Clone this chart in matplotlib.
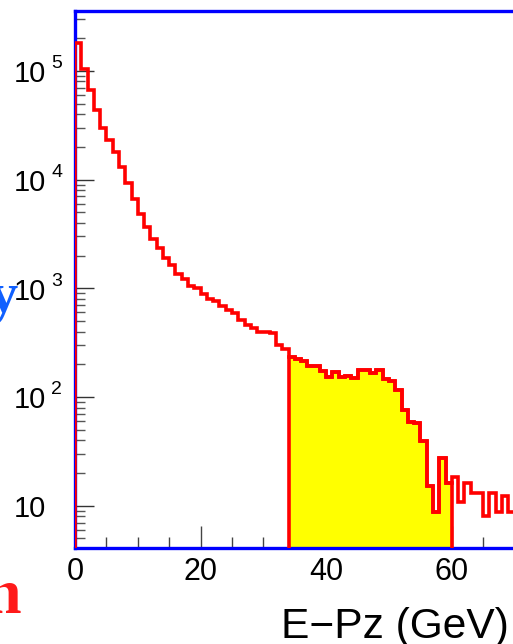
import numpy as np
import matplotlib
matplotlib.use("Agg")
import matplotlib.pyplot as plt
from matplotlib import transforms as mtrans
from matplotlib.ticker import FixedLocator, LogLocator, NullFormatter

# ---- data (E-Pz histogram, 1 GeV bins from 0 to 70 GeV) ----
bin_edges = np.arange(0, 71, 1)
counts = [182000, 104300, 66400, 43700, 29900, 23200, 18000, 13100, 9270, 6640,
          4810, 3700, 2850, 2340, 1920, 1640, 1350, 1220, 1050, 1000,
          883, 799, 766, 693, 633, 590, 512, 460, 435, 394,
          393, 391, 302, 279, 234, 222, 215, 193, 193, 174,
          154, 171, 154, 157, 149, 178, 178, 166, 178, 146,
          139, 115, 76, 59.4, 58.2, 39.5, 15.2, 8.8, 27.7, 16.1,
          18.4, 10.9, 16.1, 13.0, 13.0, 8.05, 13.2, 8.8, 12.3, 8.8]
sel_lo, sel_hi = 34, 60          # selected E-Pz window (GeV)
x_major = [0, 20, 40, 60]
x_labels = ["0", "20", "40", "60"]
y_major = [10, 100, 1000, 10000, 100000]
y_exp = ["", "2", "3", "4", "5"]
x_title = "E\u2212Pz (GeV)"

counts = np.array(counts, dtype=float)

W, H = 513, 644
fig = plt.figure(figsize=(W / 100, H / 100), dpi=100)
plt.rcParams["font.family"] = ["Liberation Sans", "DejaVu Sans"]

ax_l, ax_r, ax_t, ax_b = 75, 514.6, 11, 548
ax = fig.add_axes([ax_l / W, (H - ax_b) / H, (ax_r - ax_l) / W, (ax_b - ax_t) / H])
ax.set_yscale("log")
ax.set_xlim(0, 70)
ax.set_ylim(4.08, 3.56e5)

lw = 2.6
# selected window, filled yellow
m = (bin_edges[:-1] >= sel_lo) & (bin_edges[:-1] < sel_hi)
sel_edges = np.arange(sel_lo, sel_hi + 1, 1)
ax.stairs(counts[m], sel_edges, baseline=1.0, fill=True, color="#ffff00", zorder=2)
# full histogram outline
ax.stairs(counts, bin_edges, baseline=1.0, color="#ff0000", lw=lw, zorder=4)
ax.stairs(counts[m], sel_edges, baseline=1.0, color="#ff0000", lw=lw, zorder=4)

# spines
for s in ["top", "bottom", "left"]:
    ax.spines[s].set_color("#0000ff")
    ax.spines[s].set_linewidth(2.4)
    ax.spines[s].set_zorder(3)
ax.spines["right"].set_visible(False)

# ticks
ax.xaxis.set_major_locator(FixedLocator(x_major))
ax.xaxis.set_minor_locator(FixedLocator([v for v in range(5, 70, 5) if v % 20]))
ax.set_xticklabels(x_labels)
ax.yaxis.set_major_locator(FixedLocator(y_major))
ax.yaxis.set_minor_locator(LogLocator(base=10, subs=np.arange(2, 10), numticks=20))
ax.yaxis.set_minor_formatter(NullFormatter())
ax.tick_params(axis="x", which="major", direction="in", length=16, width=1.0,
               color="#444444", labelsize=22, pad=6.5, top=False)
ax.tick_params(axis="x", which="minor", direction="in", length=8, width=1.0,
               color="#444444", top=False)
ax.tick_params(axis="y", which="major", direction="in", length=14, width=1.0,
               color="#333333", labelleft=False, right=False)
ax.tick_params(axis="y", which="minor", direction="in", length=7, width=1.0,
               color="#555555", right=False)

# y tick labels (10 with superscript exponent)
base_tr = mtrans.blended_transform_factory(fig.transFigure, ax.transData)
tr_main = mtrans.offset_copy(base_tr, fig=fig, x=0, y=-11.5, units="dots")
tr_sup = mtrans.offset_copy(base_tr, fig=fig, x=0, y=2.5, units="dots")
for v, e in zip(y_major, y_exp):
    ax.text(46.5 / W, v, "10", transform=tr_main, ha="right", va="baseline",
            fontsize=21, color="black", clip_on=False)
    if e:
        ax.text(51 / W, v, e, transform=tr_sup, ha="left", va="baseline",
                fontsize=14, color="black", clip_on=False)

# x title
fig.text(509 / W, (H - 638.3) / H, x_title, ha="right", va="baseline",
         fontsize=30.6, color="black")

# cropped slide text at the left edge
fig.text(18 / W, (H - 312) / H, "y", ha="right", va="baseline", fontsize=42,
         fontweight="bold", family="Liberation Serif", color="#1060ff")
fig.text(21 / W, (H - 613) / H, "n", ha="right", va="baseline", fontsize=46,
         fontweight="bold", family="Liberation Serif", color="#ff1a1a")

fig.savefig("out.png", dpi=100)
